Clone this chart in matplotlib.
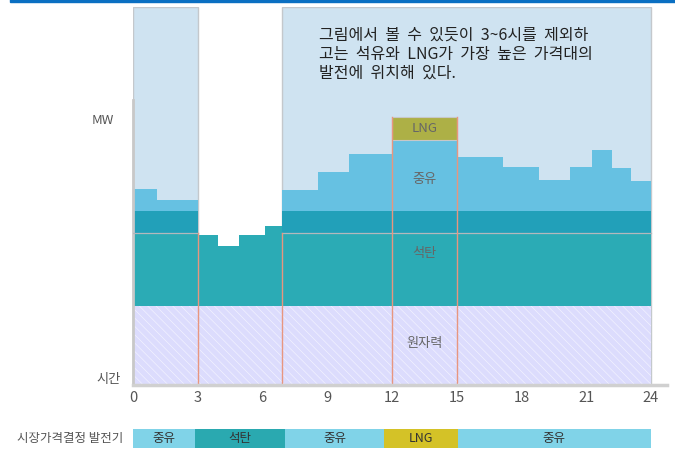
import matplotlib
matplotlib.use('Agg')
import matplotlib.pyplot as plt
from matplotlib.patches import Rectangle

plt.rcParams['font.family'] = ['Noto Sans CJK KR', 'DejaVu Sans']
plt.rcParams['hatch.linewidth'] = 0.5

# 시간대 구간(시)과 각 층의 상단값(MW, 임의 단위)
nuclear_top = 79

coal_edges = [0, 3, 3.92, 4.93, 6.12, 6.9, 24]
coal_tops = [152, 150, 139, 150, 159, 152]

band_top = 174.5  # 석탄 위 진한 띠

oil_left_edges = [0, 1.13, 3]
oil_left_tops = [196, 185]
oil_right_edges = [6.9, 8.55, 10, 12, 15, 17.13, 18.83, 20.24, 21.28, 22.2, 23.08, 24]
oil_right_tops = [194.7, 213, 231, 245.3, 227.7, 218, 204.7, 217.7, 234.7, 216.7, 204.3]

lng_span = [12, 15]
lng_top = 268

# 시장가격결정 발전기
price_edges = [0, 2.87, 7.04, 11.63, 15.04, 24]
price_names = ['중유', '석탄', '중유', 'LNG', '중유']

xticks = [0, 3, 6, 9, 12, 15, 18, 21, 24]

c_bg = '#cfe3f1'
c_oil = '#66c1e2'
c_band = '#22a0b9'
c_coal = '#2babb5'
c_nuc = '#dcdcfd'
c_lng = '#adb046'
c_red = '#e8967f'
bar_colors = {'중유': '#80d3e8', '석탄': '#2aa9b0', 'LNG': '#d4c227'}

fig = plt.figure(figsize=(6.75, 4.51), dpi=100)
ax = fig.add_axes([133 / 675, 66 / 451, 534 / 675, 378 / 451])
ax.set_xlim(0, 24.74)
ax.set_ylim(0, 378)

# 상단 파란 선
fig.patches.append(Rectangle((10 / 675, 449 / 451), 665 / 675, 2.5 / 451,
                             transform=fig.transFigure, color='#0a6fc2', zorder=5))

# 배경 패널
for x0, x1 in [(0, 3), (6.9, 24)]:
    ax.add_patch(Rectangle((x0, 0), x1 - x0, 378, facecolor=c_bg,
                           edgecolor='#c4c8cc', lw=1, zorder=0))

# 원자력
ax.add_patch(Rectangle((0, 0), 24, nuclear_top, facecolor=c_nuc,
                       edgecolor='#f2f2ff', hatch='\\\\\\\\', lw=0, zorder=1))

# 석탄
ax.stairs(coal_tops, coal_edges, baseline=nuclear_top, fill=True,
          color=c_coal, zorder=2)

# 진한 띠와 중유
for edges, tops in [(oil_left_edges, oil_left_tops), (oil_right_edges, oil_right_tops)]:
    ax.fill_between([edges[0], edges[-1]], 152, band_top, color=c_band, lw=0, zorder=2)
    ax.plot([edges[0], edges[-1]], [152, 152], color='#b4b8bc', lw=0.9, zorder=3)
    ax.stairs(tops, edges, baseline=band_top, fill=True, color=c_oil, zorder=2)

# LNG
oil_at_lng = oil_right_tops[oil_right_edges.index(lng_span[0])]
ax.add_patch(Rectangle((lng_span[0], oil_at_lng), lng_span[1] - lng_span[0],
                       lng_top - oil_at_lng, facecolor=c_lng, edgecolor='#c8c8c8',
                       lw=0.8, zorder=3))

# 구분선
for x, top in [(3, 152), (6.9, 152), (12, lng_top), (15, lng_top)]:
    ax.plot([x, x], [0, top], color=c_red, lw=1, zorder=4)

# 층 이름
lab = dict(ha='center', va='center', color='#666666', fontsize=9.5,
           fontweight='medium', zorder=5)
ax.text(13.5, 257, 'LNG', **lab)
ax.text(13.5, 205, '중유', **lab)
ax.text(13.5, 131, '석탄', **lab)
ax.text(13.5, 42, '원자력', **lab)

ax.text(8.6, 358, '그림에서  볼  수  있듯이  3~6시를  제외하\n고는  석유와  LNG가  가장  높은  가격대의\n발전에  위치해  있다.',
        ha='left', va='top', fontsize=11.5, color='#222222', linespacing=1.15, zorder=5)

# 축
for s in ['top', 'right']:
    ax.spines[s].set_visible(False)
ax.spines['left'].set_color('#c8c8c8')
ax.spines['left'].set_linewidth(2)
ax.spines['left'].set_bounds(0, 285)
ax.spines['bottom'].set_color('#d0d0d0')
ax.spines['bottom'].set_linewidth(2.5)
ax.spines['bottom'].set_zorder(6)
ax.set_yticks([])
ax.set_xticks(xticks)
ax.set_xticklabels([str(t) for t in xticks])
ax.tick_params(axis='x', length=0, pad=4, labelsize=10.5, labelcolor='#555555')

ax.text(-0.9, 264, 'MW', ha='right', va='center', fontsize=9.5, fontweight='medium',
        color='#555555')
ax.text(-0.55, 5, '시간', ha='right', va='center', fontsize=9.5, fontweight='medium',
        color='#555555')

# 시장가격결정 발전기 막대
bx = fig.add_axes([133 / 675, 3.5 / 451, 534 / 675, 18.5 / 451])
bx.set_xlim(0, 24.74)
bx.set_ylim(0, 1)
bx.axis('off')
for i, name in enumerate(price_names):
    x0, x1 = price_edges[i], price_edges[i + 1]
    bx.add_patch(Rectangle((x0, 0), x1 - x0, 1, color=bar_colors[name], lw=0))
    bx.text((x0 + x1) / 2, 0.5, name, ha='center', va='center', fontsize=9,
            fontweight='medium', color='#333333')
bx.text(-0.45, 0.5, '시장가격결정 발전기', ha='right', va='center', fontsize=9,
        fontweight='medium', color='#555555')

fig.savefig('out.png', dpi=100)
